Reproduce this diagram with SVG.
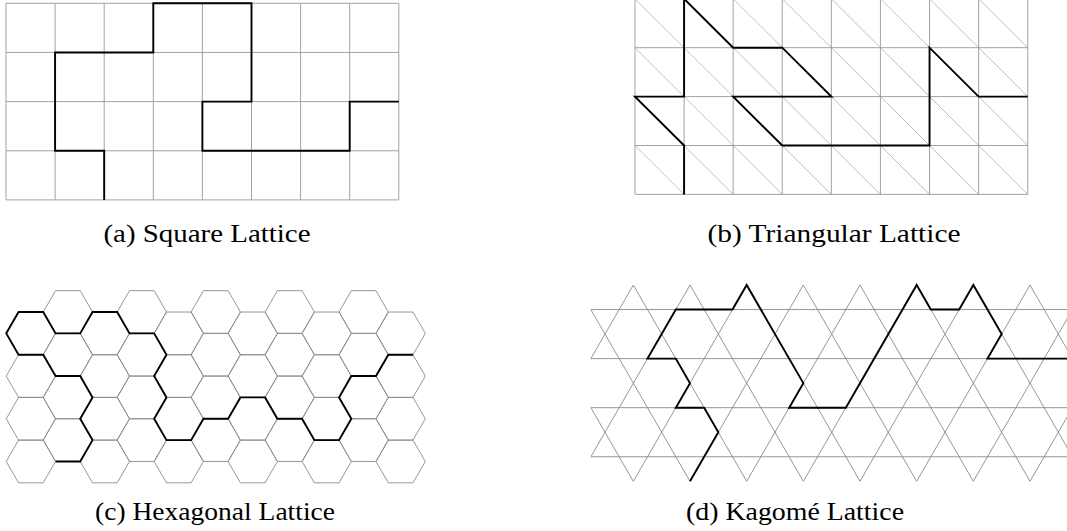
<svg xmlns="http://www.w3.org/2000/svg" xmlns:xlink="http://www.w3.org/1999/xlink" width="1067" height="531" viewBox="0 0 1067 531">
<style>
.grid{fill:none;stroke:#999;stroke-width:0.9}
.diag{fill:none;stroke:#aaa;stroke-width:0.75}
.lat{fill:none;stroke:#8a8a8a;stroke-width:0.9}
.walk{fill:none;stroke:#000;stroke-width:1.9;stroke-linejoin:miter;stroke-linecap:butt}
.cap{font-family:"Liberation Serif","Times New Roman",serif;font-size:26px;fill:#000;text-anchor:middle}
</style>
<defs>
<polygon id="hx" points="-24.65,0 -12.33,-21.35 12.33,-21.35 24.65,0 12.33,21.35 -12.33,21.35"/>
<clipPath id="kclip"><rect x="590.83" y="280" width="480" height="210"/></clipPath>
</defs>
<rect width="1067" height="531" fill="#fff"/>

<g id="panel-a">
<path class="grid" d="M6 3.3H398.8M6 52.45H398.8M6 101.6H398.8M6 150.75H398.8M6 199.9H398.8M6 3.3V199.9M55.1 3.3V199.9M104.2 3.3V199.9M153.3 3.3V199.9M202.4 3.3V199.9M251.5 3.3V199.9M300.6 3.3V199.9M349.7 3.3V199.9M398.8 3.3V199.9"/>
<path class="walk" d="M104.2 199.9V150.75H55.1V52.45H153.3V3.3H251.5V101.6H202.4V150.75H349.7V101.6H398.8"/>
</g>

<g id="panel-b">
<path class="diag" d="M635 -1.2L831.36 194.4M684.09 -1.2L880.45 194.4M733.18 -1.2L929.54 194.4M782.27 -1.2L978.63 194.4M831.36 -1.2L1027.72 194.4M880.45 -1.2L1027.72 145.5M929.54 -1.2L1027.72 96.6M978.63 -1.2L1027.72 47.7M635 47.7L782.27 194.4M635 96.6L733.18 194.4M635 145.5L684.09 194.4"/>
<path class="grid" d="M635 47.7H1027.72M635 96.6H1027.72M635 145.5H1027.72M635 194.4H1027.72M635 -1.2V194.4M684.09 -1.2V194.4M733.18 -1.2V194.4M782.27 -1.2V194.4M831.36 -1.2V194.4M880.45 -1.2V194.4M929.54 -1.2V194.4M978.63 -1.2V194.4M1027.72 -1.2V194.4"/>
<path class="walk" d="M684.09 194.4V145.5L635 96.6H684.09V-1.2L733.18 47.7H782.27L831.36 96.6H733.18L782.27 145.5H929.54V47.7L978.63 96.6H1027.72"/>
</g>

<g id="panel-c">
<g class="lat">
<use xlink:href="#hx" x="30.9" y="333.37"/><use xlink:href="#hx" x="30.9" y="376.07"/><use xlink:href="#hx" x="30.9" y="418.77"/><use xlink:href="#hx" x="30.9" y="461.47"/>
<use xlink:href="#hx" x="67.88" y="312.02"/><use xlink:href="#hx" x="67.88" y="354.72"/><use xlink:href="#hx" x="67.88" y="397.42"/><use xlink:href="#hx" x="67.88" y="440.12"/>
<use xlink:href="#hx" x="104.85" y="333.37"/><use xlink:href="#hx" x="104.85" y="376.07"/><use xlink:href="#hx" x="104.85" y="418.77"/><use xlink:href="#hx" x="104.85" y="461.47"/>
<use xlink:href="#hx" x="141.83" y="312.02"/><use xlink:href="#hx" x="141.83" y="354.72"/><use xlink:href="#hx" x="141.83" y="397.42"/><use xlink:href="#hx" x="141.83" y="440.12"/>
<use xlink:href="#hx" x="178.8" y="333.37"/><use xlink:href="#hx" x="178.8" y="376.07"/><use xlink:href="#hx" x="178.8" y="418.77"/><use xlink:href="#hx" x="178.8" y="461.47"/>
<use xlink:href="#hx" x="215.78" y="312.02"/><use xlink:href="#hx" x="215.78" y="354.72"/><use xlink:href="#hx" x="215.78" y="397.42"/><use xlink:href="#hx" x="215.78" y="440.12"/>
<use xlink:href="#hx" x="252.75" y="333.37"/><use xlink:href="#hx" x="252.75" y="376.07"/><use xlink:href="#hx" x="252.75" y="418.77"/><use xlink:href="#hx" x="252.75" y="461.47"/>
<use xlink:href="#hx" x="289.73" y="312.02"/><use xlink:href="#hx" x="289.73" y="354.72"/><use xlink:href="#hx" x="289.73" y="397.42"/><use xlink:href="#hx" x="289.73" y="440.12"/>
<use xlink:href="#hx" x="326.7" y="333.37"/><use xlink:href="#hx" x="326.7" y="376.07"/><use xlink:href="#hx" x="326.7" y="418.77"/><use xlink:href="#hx" x="326.7" y="461.47"/>
<use xlink:href="#hx" x="363.68" y="312.02"/><use xlink:href="#hx" x="363.68" y="354.72"/><use xlink:href="#hx" x="363.68" y="397.42"/><use xlink:href="#hx" x="363.68" y="440.12"/>
<use xlink:href="#hx" x="400.65" y="333.37"/><use xlink:href="#hx" x="400.65" y="376.07"/><use xlink:href="#hx" x="400.65" y="418.77"/><use xlink:href="#hx" x="400.65" y="461.47"/>
</g>
<path class="walk" d="M55.55 461.47L80.2 461.47L92.53 440.12L80.2 418.77L92.53 397.42L80.2 376.07L55.55 376.07L43.23 354.72L18.57 354.72L6.25 333.37L18.57 312.02L43.23 312.02L55.55 333.37L80.2 333.37L92.53 312.02L117.18 312.02L129.5 333.37L154.15 333.37L166.48 354.72L154.15 376.07L166.48 397.42L154.15 418.77L166.48 440.12L191.13 440.12L203.45 418.77L228.1 418.77L240.43 397.42L265.08 397.42L277.4 418.77L302.05 418.77L314.38 440.12L339.03 440.12L351.35 418.77L339.03 397.42L351.35 376.07L376 376.07L388.33 354.72L412.98 354.72"/>
</g>

<g id="panel-d">
<g clip-path="url(#kclip)">
<path class="lat" d="M633.33 285L520 481.3M690 285L576.67 481.3M746.67 285L633.33 481.3M803.33 285L690 481.3M860 285L746.67 481.3M916.67 285L803.33 481.3M973.33 285L860 481.3M1030 285L916.67 481.3M1086.67 285L973.33 481.3M1143.33 285L1030 481.3M520 285L633.33 481.3M576.67 285L690 481.3M633.33 285L746.67 481.3M690 285L803.33 481.3M746.67 285L860 481.3M803.33 285L916.67 481.3M860 285L973.33 481.3M916.67 285L1030 481.3M973.33 285L1086.67 481.3M1030 285L1143.33 481.3M590.83 309.54H1075M590.83 358.61H1075M590.83 407.69H1075M590.83 456.76H1075"/>
</g>
<path class="walk" d="M690 481.3L718.33 432.22L704.17 407.69L675.83 407.69L690 383.15L675.83 358.61L647.5 358.61L675.83 309.54L732.5 309.54L746.67 285L803.33 383.15L789.17 407.69L845.83 407.69L916.67 285L930.83 309.54L959.17 309.54L973.33 285L1001.67 334.07L987.5 358.61L1070 358.61"/>
</g>

<g id="captions">
<text class="cap" x="207" y="242" textLength="207" lengthAdjust="spacingAndGlyphs">(a) Square Lattice</text>
<text class="cap" x="834" y="242" textLength="253" lengthAdjust="spacingAndGlyphs">(b) Triangular Lattice</text>
<text class="cap" x="215" y="520" textLength="240" lengthAdjust="spacingAndGlyphs">(c) Hexagonal Lattice</text>
<text class="cap" x="795" y="520" textLength="218" lengthAdjust="spacingAndGlyphs">(d) Kagomé Lattice</text>
</g>
</svg>
